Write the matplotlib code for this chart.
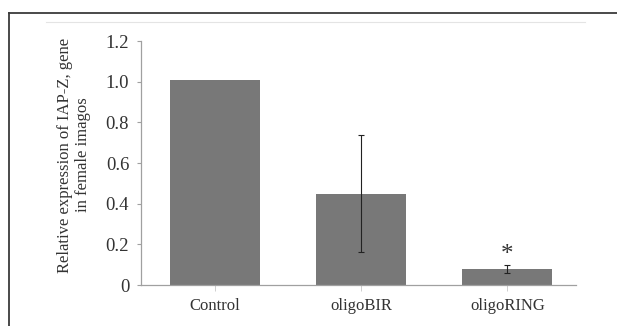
import matplotlib.pyplot as plt
from matplotlib.lines import Line2D
import numpy as np

# Data
groups = ["Control", "oligoBIR", "oligoRING"]
expression = [1.01, 0.45, 0.078]
errors = [0.0, 0.29, 0.018]
yticks = [0, 0.2, 0.4, 0.6, 0.8, 1.0, 1.2]
ytick_labels = ["0", "0.2", "0.4", "0.6", "0.8", "1.0", "1.2"]

plt.rcParams["font.family"] = ["Liberation Serif", "DejaVu Serif"]

fig = plt.figure(figsize=(6.17, 3.26), dpi=100)
fig.patch.set_facecolor("white")

# outer frame lines (top and left) and faint panel line
fig.add_artist(Line2D([9 / 617, 1.0], [1 - 13 / 326, 1 - 13 / 326],
                      transform=fig.transFigure, color="#3a3a3a", lw=1.3))
fig.add_artist(Line2D([9 / 617, 9 / 617], [0.0, 1 - 13 / 326],
                      transform=fig.transFigure, color="#3a3a3a", lw=1.3))
fig.add_artist(Line2D([46 / 617, 585 / 617], [1 - 22 / 326, 1 - 22 / 326],
                      transform=fig.transFigure, color="#e4e4e4", lw=0.8))

ax = fig.add_axes([141 / 617, 41 / 326, 435 / 617, 244 / 326])
ax.set_facecolor("none")

x = np.arange(len(groups))
ax.bar(x, expression, width=0.615, color="#787878", zorder=2)
ax.errorbar(x[1:], expression[1:], yerr=errors[1:], fmt="none",
            ecolor="#222222", elinewidth=0.8, capsize=2.5, capthick=0.8, zorder=3)
ax.text(2, 0.148, "*", ha="center", va="center", fontsize=18, color="#333333")

ax.set_xlim(-0.507, 2.47)
ax.set_ylim(0, 1.2)
ax.set_xticks(x)
ax.set_xticklabels(groups, fontsize=12, color="#333333")
ax.set_yticks(yticks)
ax.set_yticklabels(ytick_labels, fontsize=13.5, color="#333333")

for side in ["top", "right"]:
    ax.spines[side].set_visible(False)
for side in ["left", "bottom"]:
    ax.spines[side].set_color("#a0a0a0")
    ax.spines[side].set_linewidth(0.9)
ax.tick_params(axis="y", length=3, width=0.8, color="#a0a0a0", pad=5.5)
ax.tick_params(axis="x", length=4, width=0.6, color="#c8c8c8", pad=5.5)

fig.text(74 / 617, 1 - 155 / 326,
         "Relative expression of IAP-Z, gene\nin female imagos",
         rotation=90, ha="center", va="center", fontsize=12,
         color="#333333", linespacing=1.1)

plt.savefig("out.png", dpi=100)
